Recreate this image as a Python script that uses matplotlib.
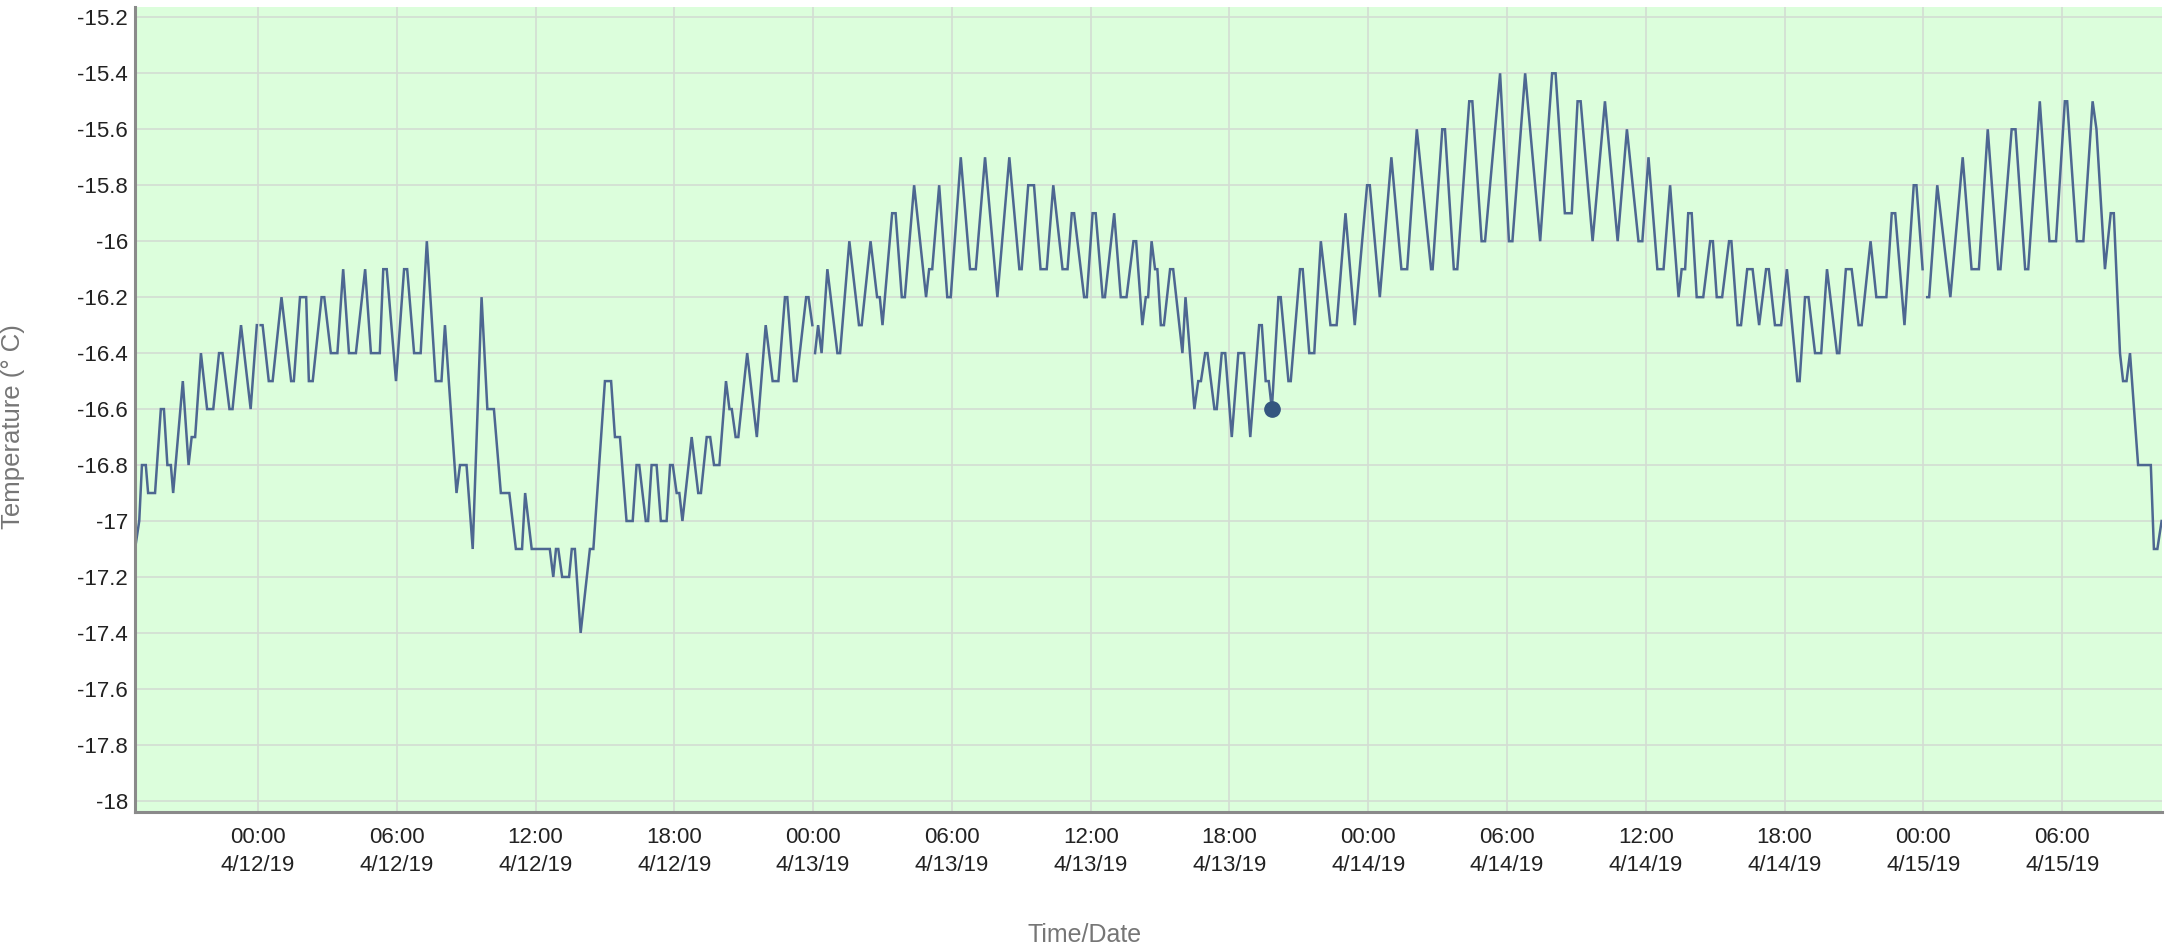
import matplotlib
matplotlib.use("Agg")
import matplotlib.pyplot as plt
import matplotlib.dates as mdates
from matplotlib.ticker import FuncFormatter
import numpy as np
import pandas as pd

# Sensor readings: minutes after 2019-04-12 00:00, temperature in deg C
# (nan marks the breaks in the logged series at midnight)
minutes = [
    -319, -308, -301, -291, -285, -267, -252, -244, -235, -226, -220, -195,
    -180, -172, -163, -148, -132, -116, -101, -92, -74, -66, -44, -19, -3,
    2, 7, 12, 28, 38, 61, 86, 93, 109, 125, 132, 142, 165, 172, 189, 206,
    221, 236, 254, 278, 293, 316, 325, 334, 358,
    379, 387, 405, 422, 438, 461, 476, 485, 515, 524, 541, 557, 580, 595,
    612, 630, 652, 669, 685, 693, 710, 757, 766, 773, 779, 789, 807, 814,
    822, 837, 861, 870, 885, 900, 916, 926, 939, 956, 972, 982, 989, 1006,
    1012, 1021, 1034,
    1045, 1060, 1069, 1076, 1086, 1093, 1101, 1125, 1142, 1149, 1164, 1173,
    1183, 1197, 1214, 1223, 1229, 1239, 1246, 1269, 1294, 1317, 1335, 1350,
    1367, 1373, 1390, 1397, 1422, 1428, 1438, 1441, 1445, 1453, 1462, 1477,
    1503, 1510, 1534, 1559, 1566, 1589, 1606, 1613, 1620, 1645, 1654, 1670,
    1678, 1702,
    1733, 1741, 1749, 1767, 1788, 1797, 1823, 1847, 1862, 1886, 1918, 1949,
    1975, 1981, 1998, 2013, 2030, 2046, 2063, 2087, 2100, 2111, 2117, 2143,
    2150, 2165, 2173, 2191, 2197, 2221, 2238, 2253, 2271, 2278, 2294, 2303,
    2309, 2318, 2327, 2333, 2342, 2350, 2366, 2374,
    2398, 2406, 2429, 2439, 2446, 2457, 2463, 2481, 2487, 2500, 2509, 2526,
    2543, 2558, 2574, 2597, 2604, 2614, 2622, 2630, 2647, 2653, 2673, 2679,
    2703, 2710, 2727, 2740, 2757, 2782, 2798, 2821, 2845, 2877, 2884, 2910,
    2940, 2966, 2981, 3006, 3043, 3047,
    3072, 3079, 3102, 3111, 3142, 3150, 3174, 3183, 3222, 3245, 3254, 3287,
    3326, 3357, 3366, 3390, 3408, 3423, 3431, 3462, 3494, 3527, 3551, 3581,
    3591, 3607, 3630, 3646, 3663, 3685, 3693, 3702, 3710, 3719, 3732,
    3749, 3767, 3774, 3784, 3798, 3816, 3822, 3838, 3847, 3863, 3877, 3894,
    3912, 3919, 3935, 3951, 3966, 3993, 3999, 4013, 4022, 4039, 4055, 4070,
    4096, 4102, 4119, 4134, 4152, 4160, 4183, 4198, 4224, 4238, 4247, 4271,
    4295, 4302, 4318, 4324, 4330, 4335, 4356, 4390,
    4422, 4445, 4464, 4487, 4514, 4520, 4549, 4559, 4584, 4592, 4622, 4647,
    4664, 4687, 4693, 4718, 4735, 4759, 4769, 4791, 4806, 4814, 4830, 4838,
    4847, 4856, 4877, 4910, 4918, 4927, 4938,
]
temps = [
    -17.1, -17.0, -16.8, -16.8, -16.9, -16.9, -16.6, -16.6, -16.8, -16.8, -16.9, -16.5,
    -16.8, -16.7, -16.7, -16.4, -16.6, -16.6, -16.4, -16.4, -16.6, -16.6, -16.3, -16.6, -16.3,
    np.nan, -16.3, -16.3, -16.5, -16.5, -16.2, -16.5, -16.5, -16.2, -16.2, -16.5, -16.5, -16.2, -16.2, -16.4, -16.4,
    -16.1, -16.4, -16.4, -16.1, -16.4, -16.4, -16.1, -16.1, -16.5,
    -16.1, -16.1, -16.4, -16.4, -16.0, -16.5, -16.5, -16.3, -16.9, -16.8, -16.8, -17.1, -16.2, -16.6,
    -16.6, -16.9, -16.9, -17.1, -17.1, -16.9, -17.1, -17.1, -17.2, -17.1, -17.1, -17.2, -17.2, -17.1,
    -17.1, -17.4, -17.1, -17.1, -16.8, -16.5, -16.5, -16.7, -16.7, -17.0, -17.0, -16.8, -16.8, -17.0,
    -17.0, -16.8, -16.8,
    -17.0, -17.0, -16.8, -16.8, -16.9, -16.9, -17.0, -16.7, -16.9, -16.9, -16.7, -16.7,
    -16.8, -16.8, -16.5, -16.6, -16.6, -16.7, -16.7, -16.4, -16.7, -16.3, -16.5, -16.5,
    -16.2, -16.2, -16.5, -16.5, -16.2, -16.2, -16.3, np.nan, -16.4, -16.3, -16.4, -16.1,
    -16.4, -16.4, -16.0, -16.3, -16.3, -16.0, -16.2, -16.2, -16.3, -15.9, -15.9, -16.2,
    -16.2, -15.8,
    -16.2, -16.1, -16.1, -15.8, -16.2, -16.2, -15.7, -16.1, -16.1, -15.7, -16.2, -15.7,
    -16.1, -16.1, -15.8, -15.8, -16.1, -16.1, -15.8, -16.1, -16.1, -15.9, -15.9, -16.2,
    -16.2, -15.9, -15.9, -16.2, -16.2, -15.9, -16.2, -16.2, -16.0, -16.0, -16.3, -16.2,
    -16.2, -16.0, -16.1, -16.1, -16.3, -16.3, -16.1, -16.1,
    -16.4, -16.2, -16.6, -16.5, -16.5, -16.4, -16.4, -16.6, -16.6, -16.4, -16.4, -16.7,
    -16.4, -16.4, -16.7, -16.3, -16.3, -16.5, -16.5, -16.6, -16.2, -16.2, -16.5, -16.5,
    -16.1, -16.1, -16.4, -16.4, -16.0, -16.3, -16.3, -15.9, -16.3, -15.8, -15.8, -16.2,
    -15.7, -16.1, -16.1, -15.6, -16.1, -16.1,
    -15.6, -15.6, -16.1, -16.1, -15.5, -15.5, -16.0, -16.0, -15.4, -16.0, -16.0, -15.4,
    -16.0, -15.4, -15.4, -15.9, -15.9, -15.5, -15.5, -16.0, -15.5, -16.0, -15.6, -16.0,
    -16.0, -15.7, -16.1, -16.1, -15.8, -16.2, -16.1, -16.1, -15.9, -15.9, -16.2,
    -16.2, -16.0, -16.0, -16.2, -16.2, -16.0, -16.0, -16.3, -16.3, -16.1, -16.1, -16.3,
    -16.1, -16.1, -16.3, -16.3, -16.1, -16.5, -16.5, -16.2, -16.2, -16.4, -16.4, -16.1,
    -16.4, -16.4, -16.1, -16.1, -16.3, -16.3, -16.0, -16.2, -16.2, -15.9, -15.9, -16.3,
    -15.8, -15.8, -16.1, np.nan, -16.2, -16.2, -15.8, -16.2,
    -15.7, -16.1, -16.1, -15.6, -16.1, -16.1, -15.6, -15.6, -16.1, -16.1, -15.5, -16.0,
    -16.0, -15.5, -15.5, -16.0, -16.0, -15.5, -15.6, -16.1, -15.9, -15.9, -16.4, -16.5,
    -16.5, -16.4, -16.8, -16.8, -17.1, -17.1, -17.0,
]

# highlighted (hovered) reading
marker_minute = 2630
marker_temp = -16.6

y_ticks = [round(-18 + 0.2 * i, 1) for i in range(15)]

base = pd.Timestamp("2019-04-12 00:00")
times = base + pd.to_timedelta(minutes, unit="min")
x_ticks = pd.date_range("2019-04-12 00:00", "2019-04-15 06:00", freq="6h")

plt.rcParams["font.family"] = ["Liberation Sans", "DejaVu Sans"]

fig = plt.figure(figsize=(21.65, 9.51), dpi=100)
ax = fig.add_axes([135 / 2165, 1 - 812 / 951, 2027 / 2165, 805 / 951])
ax.set_facecolor("#dcfedc")

ax.plot(times, temps, color="#4d6791", linewidth=1.8, solid_joinstyle="miter")
ax.plot(base + pd.Timedelta(minutes=marker_minute), marker_temp, "o",
        color="#34567f", markersize=11)

ax.set_xlim(base + pd.Timedelta(minutes=-319), base + pd.Timedelta(minutes=4939))
ax.set_ylim(-18.04, -15.163)

ax.set_yticks(y_ticks)
ax.yaxis.set_major_formatter(FuncFormatter(lambda v, p: f"{v:g}"))
ax.set_xticks(x_ticks)
ax.xaxis.set_major_formatter(mdates.DateFormatter("%H:%M\n%-m/%-d/%y"))

ax.grid(True, color="#d3ddd3", linewidth=1.2)
ax.set_axisbelow(True)
ax.tick_params(axis="both", length=0, labelsize=16, colors="#222222")
ax.tick_params(axis="y", pad=5)
ax.tick_params(axis="x", pad=11)
for lbl in ax.get_xticklabels():
    lbl.set_linespacing(1.4)

for side in ("top", "right"):
    ax.spines[side].set_visible(False)
for side in ("left", "bottom"):
    ax.spines[side].set_color("#8a8a8a")
    ax.spines[side].set_linewidth(2.2)

ax.set_ylabel("Temperature (° C)", fontsize=18.5, color="#767676")
ax.yaxis.set_label_coords(-0.0543, 0.479)
fig.text(1085 / 2165, 1 - 935 / 951, "Time/Date", fontsize=18, color="#767676",
         ha="center", va="center")

fig.savefig("out.png", dpi=100)
